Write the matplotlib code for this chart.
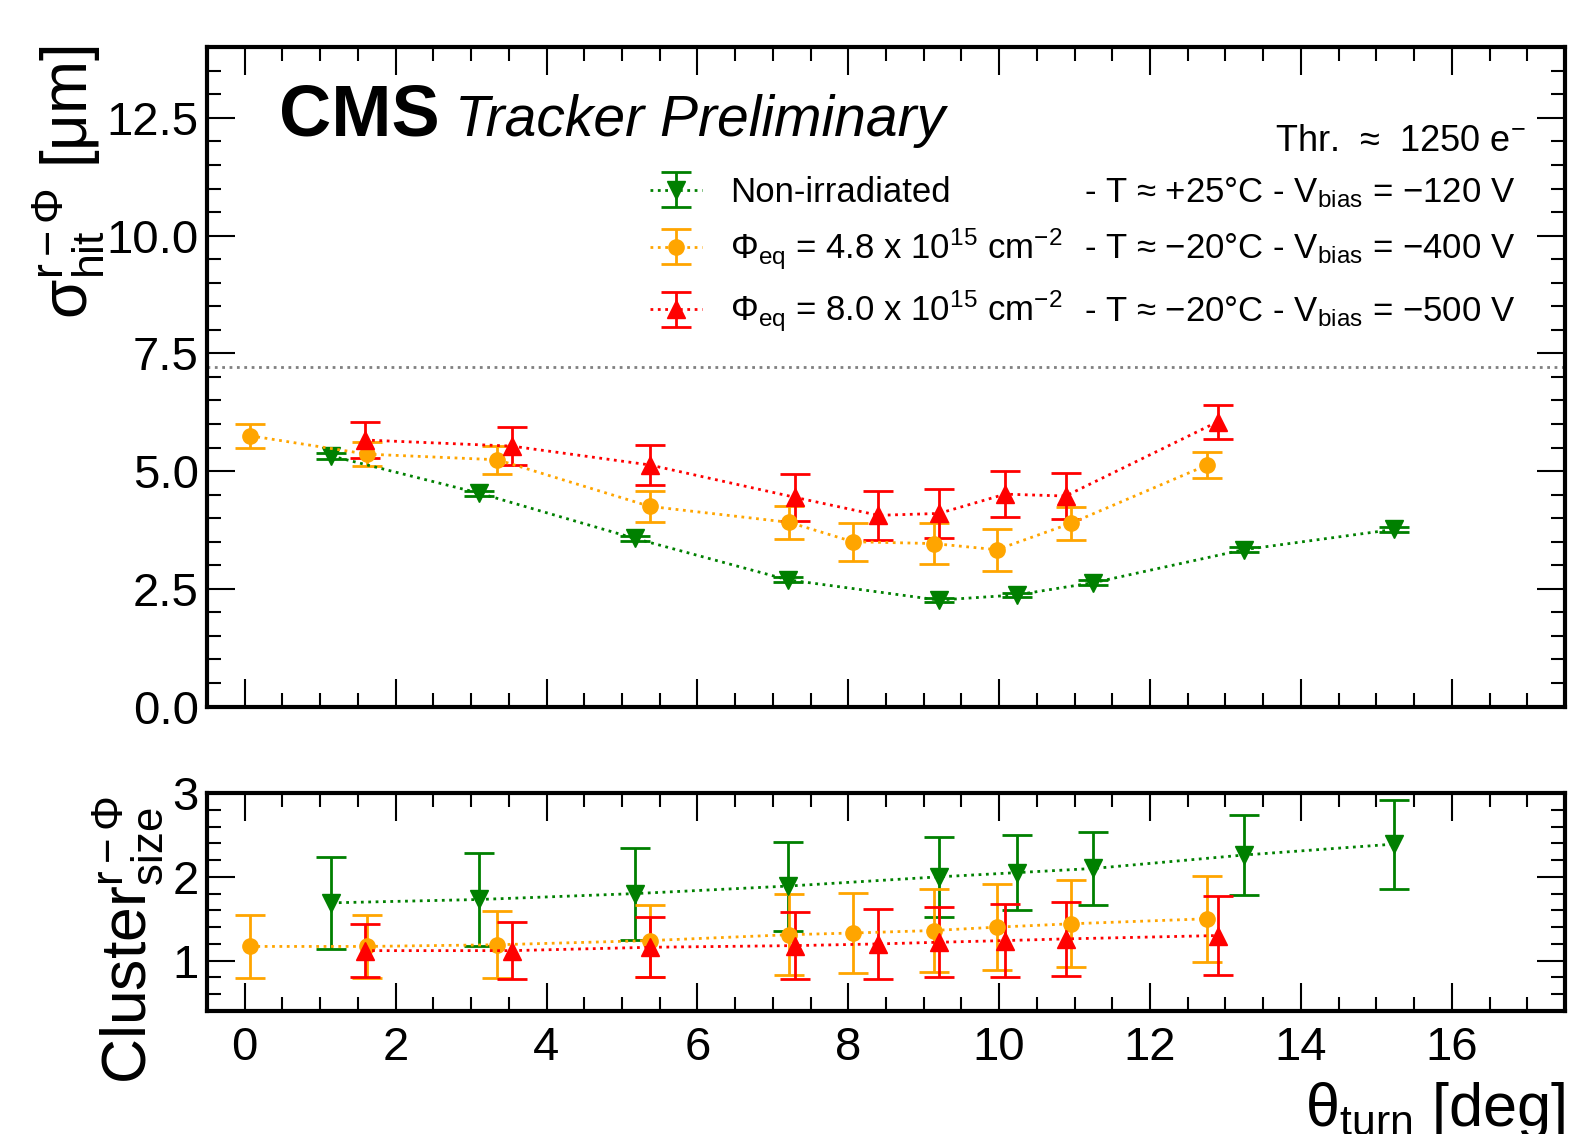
import matplotlib
matplotlib.use("Agg")
import matplotlib.pyplot as plt
from matplotlib.ticker import MultipleLocator

plt.rcParams["font.family"] = ["Liberation Sans", "DejaVu Sans"]
plt.rcParams["mathtext.fontset"] = "custom"
plt.rcParams["mathtext.rm"] = "Liberation Sans"
plt.rcParams["mathtext.it"] = "Liberation Sans:italic"
plt.rcParams["mathtext.bf"] = "Liberation Sans:bold"

# ---- data ----
# non-irradiated (green)
theta_noirr = [1.15, 3.11, 5.17, 7.20, 9.20, 10.23, 11.25, 13.24, 15.23]
res_noirr = [5.32, 4.53, 3.57, 2.69, 2.26, 2.37, 2.63, 3.33, 3.76]
res_noirr_err = [0.06, 0.05, 0.05, 0.05, 0.05, 0.05, 0.05, 0.05, 0.05]
cls_noirr = [1.69, 1.73, 1.80, 1.89, 2.00, 2.05, 2.10, 2.26, 2.39]
cls_noirr_err = [0.55, 0.56, 0.55, 0.53, 0.48, 0.45, 0.44, 0.48, 0.53]

# phi_eq = 4.8e15 (orange)
theta_48 = [0.07, 1.62, 3.35, 5.37, 7.22, 8.06, 9.13, 9.97, 10.95, 12.76]
res_48 = [5.75, 5.36, 5.24, 4.25, 3.91, 3.50, 3.46, 3.33, 3.89, 5.13]
res_48_err = [0.26, 0.25, 0.30, 0.33, 0.35, 0.40, 0.43, 0.45, 0.35, 0.28]
cls_48 = [1.17, 1.17, 1.19, 1.24, 1.31, 1.33, 1.36, 1.40, 1.44, 1.50]
cls_48_err = [0.38, 0.38, 0.40, 0.43, 0.48, 0.48, 0.49, 0.51, 0.52, 0.51]

# phi_eq = 8.0e15 (red)
theta_80 = [1.59, 3.54, 5.37, 7.30, 8.40, 9.20, 10.08, 10.88, 12.90]
res_80 = [5.66, 5.53, 5.13, 4.44, 4.06, 4.10, 4.51, 4.47, 6.05]
res_80_err = [0.38, 0.40, 0.43, 0.50, 0.52, 0.52, 0.49, 0.49, 0.36]
cls_80 = [1.12, 1.12, 1.16, 1.18, 1.20, 1.22, 1.24, 1.26, 1.30]
cls_80_err = [0.32, 0.34, 0.36, 0.40, 0.42, 0.42, 0.44, 0.44, 0.47]

pitch_line = 7.22

labels_left = [
    "Non-irradiated",
    r"Φ$_{\mathrm{eq}}$ = 4.8 x 10$^{15}$ cm$^{-2}$",
    r"Φ$_{\mathrm{eq}}$ = 8.0 x 10$^{15}$ cm$^{-2}$",
]
labels_right = [
    r"- T ≈ +25°C - V$_{\mathrm{bias}}$ = −120 V",
    r"- T ≈ −20°C - V$_{\mathrm{bias}}$ = −400 V",
    r"- T ≈ −20°C - V$_{\mathrm{bias}}$ = −500 V",
]

series = [
    (theta_noirr, res_noirr, res_noirr_err, cls_noirr, cls_noirr_err, "green", "v", 13),
    (theta_48, res_48, res_48_err, cls_48, cls_48_err, "orange", "o", 11),
    (theta_80, res_80, res_80_err, cls_80, cls_80_err, "red", "^", 13),
]

W, H = 1578, 1134
fig = plt.figure(figsize=(W / 100, H / 100), dpi=100)
ax1 = fig.add_axes([207 / W, 1 - 706.5 / H, (1565 - 207) / W, (706.5 - 47.3) / H])
ax2 = fig.add_axes([207 / W, 1 - 1011 / H, (1565 - 207) / W, (1011 - 793) / H])

handles = []
for x, r, re, c, ce, col, mk, ms in series:
    kw = dict(fmt=mk, ls=":", lw=2, color=col, ms=ms, capsize=11,
              elinewidth=2, capthick=2)
    h = ax1.errorbar(x, r, yerr=re, **kw)
    ax2.errorbar(x, c, yerr=ce, **kw)
    handles.append(h)

ax1.axhline(pitch_line, color="gray", ls=":", lw=2)

for ax in (ax1, ax2):
    ax.set_xlim(-0.5, 17.5)
    ax.xaxis.set_major_locator(MultipleLocator(2))
    ax.xaxis.set_minor_locator(MultipleLocator(0.5))
    ax.tick_params(which="both", direction="in", top=True, right=True,
                   labelsize=34, width=1.5)
    ax.tick_params(which="major", length=20)
    ax.tick_params(which="minor", length=10)
    ax.tick_params(axis="x", pad=11)
    ax.tick_params(axis="y", pad=6)
    for s in ax.spines.values():
        s.set_linewidth(3)

ax1.set_ylim(0, 14)
ax1.yaxis.set_major_locator(MultipleLocator(2.5))
ax1.yaxis.set_minor_locator(MultipleLocator(0.5))
ax1.yaxis.set_major_formatter(lambda v, p: f"{v:.1f}")
ax1.tick_params(axis="x", labelbottom=False)

ax2.set_ylim(0.4, 3.0)
ax2.yaxis.set_major_locator(MultipleLocator(1))
ax2.yaxis.set_minor_locator(MultipleLocator(0.2))

# axis titles
fig.text(68 / W, 1 - 45 / H, r"$\mathrm{σ}^{\mathrm{r-Φ}}_{\mathrm{hit}}$ [μm]",
         rotation=90, ha="center", va="top", fontsize=46)
fig.text(128 / W, 1 - 796 / H, r"Cluster$^{\mathrm{r-Φ}}_{\mathrm{size}}$",
         rotation=90, ha="center", va="top", fontsize=45)
fig.text(1565 / W, 1 - 1126 / H, r"θ$_{\mathrm{turn}}$ [deg]",
         ha="right", va="baseline", fontsize=44)

# CMS label
fig.text(279 / W, 1 - 136 / H, "CMS", fontsize=52, fontweight="bold",
         va="baseline")
fig.text(455 / W, 1 - 136 / H, "Tracker Preliminary", fontsize=41,
         style="italic", va="baseline")
fig.text(1526 / W, 1 - 151 / H, r"Thr.  ≈  1250 e$^{-}$", fontsize=26,
         ha="right", va="baseline")

leg = fig.legend(handles, labels_left, loc="upper left",
                 bbox_to_anchor=(650 / W, 1 - 176 / H), frameon=False,
                 fontsize=25, handlelength=1.5, handletextpad=0.8,
                 labelspacing=0.5, borderpad=0, borderaxespad=0)

fig.canvas.draw()
for t, s in zip(leg.get_texts(), labels_right):
    xd, yd = t.get_transform().transform(t.get_position())
    fig.text(1515 / W, yd / H, s, fontsize=25, ha="right", va="baseline")

fig.savefig("out.png", dpi=100)
